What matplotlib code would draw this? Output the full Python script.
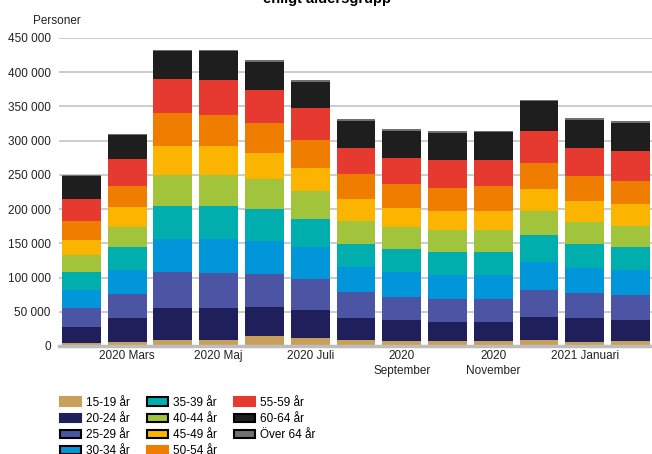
import matplotlib
matplotlib.use("Agg")
import matplotlib.pyplot as plt
import matplotlib.patches as mpatches
import numpy as np

plt.rcParams["font.family"] = ["Liberation Sans", "DejaVu Sans"]

months = ["2020 Februari", "2020 Mars", "2020 April", "2020 Maj", "2020 Juni", "2020 Juli",
          "2020 Augusti", "2020\nSeptember", "2020 Oktober", "2020\nNovember", "2020 December",
          "2021 Januari", "2021 Februari"]
shown_ticks = [1, 3, 5, 7, 9, 11]

groups = ["15-19 år", "20-24 år", "25-29 år", "30-34 år", "35-39 år", "40-44 år",
          "45-49 år", "50-54 år", "55-59 år", "60-64 år", "Över 64 år"]
colors = ["#c9a05a", "#1f1f5c", "#4c55a3", "#0096d9", "#00afad", "#a2c43c",
          "#fbb400", "#ef7d00", "#e63a31", "#1e1e1e", "#707070"]

# persons per age group
g15_19 = [4400, 5800, 8800, 8800, 14600, 11700, 8800, 7300, 7300, 7300, 8800, 5800, 7300]
g20_24 = [23300, 35100, 46600, 46600, 42300, 40800, 32100, 30600, 27700, 27700, 33500, 35100, 30600]
g25_29 = [27700, 35000, 52600, 51100, 48200, 45300, 37900, 33600, 33600, 33600, 39400, 36400, 36500]
g30_34 = [26300, 35000, 48100, 49600, 48100, 46700, 36500, 36500, 35000, 35000, 40900, 36500, 36500]
g35_39 = [26300, 33600, 48200, 48200, 46700, 40800, 33500, 33500, 33600, 33600, 39400, 35000, 33600]
g40_44 = [24800, 29200, 45200, 45200, 43800, 40900, 33600, 32200, 32100, 32100, 35000, 32100, 30600]
g45_49 = [21900, 29200, 42300, 42300, 37900, 33500, 32100, 27700, 27700, 27700, 32100, 30700, 32100]
g50_54 = [27700, 30600, 48200, 45300, 43800, 40900, 36500, 35000, 33500, 36500, 37900, 36500, 33600]
g55_59 = [32100, 39400, 49600, 51100, 48200, 46700, 37900, 37900, 40900, 37900, 46700, 40800, 43700]
g60_64 = [34000, 35000, 40900, 42300, 40900, 37900, 39400, 39400, 39400, 40900, 43800, 40900, 40900]
g65_up = [1500, 1500, 1500, 1500, 2800, 3000, 3000, 2900, 2900, 1400, 1500, 2900, 2900]

series = [g15_19, g20_24, g25_29, g30_34, g35_39, g40_44,
          g45_49, g50_54, g55_59, g60_64, g65_up]

fig = plt.figure(figsize=(6.52, 4.54), dpi=100)
ax = fig.add_axes([0.0905, 0.2379, 0.9095, 0.6784])

x = np.arange(len(months))
bottom = np.zeros(len(months))
for vals, col, name in zip(series, colors, groups):
    ax.bar(x, vals, width=0.85, bottom=bottom, color=col, label=name, zorder=3)
    bottom += np.array(vals)

ax.set_xlim(-0.49, 12.47)
ax.set_ylim(0, 450000)
yt = np.arange(0, 450001, 50000)
ax.set_yticks(yt)
ax.set_yticklabels([f"{v:,}".replace(",", " ") for v in yt], fontsize=8.5, color="#222222")
ax.set_xticks(shown_ticks)
ax.set_xticklabels([months[i] for i in shown_ticks], fontsize=8.5, color="#222222", linespacing=1.3)
ax.tick_params(length=0, pad=3)
ax.tick_params(axis="y", pad=6)

ax.grid(axis="y", color="#c8c8c8", linewidth=1.3, zorder=0)
ax.set_axisbelow(True)
for s in ["top", "right", "left"]:
    ax.spines[s].set_visible(False)
ax.spines["bottom"].set_color("#bdbdbd")
ax.spines["bottom"].set_linewidth(2.5)
ax.spines["bottom"].set_zorder(4)

fig.text(33 / 652, 1 - 24 / 454, "Personer", fontsize=8.5, color="#222222", va="baseline")
# title is partly outside the figure in the original
fig.text(0.502, 1 - 3 / 454, "enligt åldersgrupp", fontsize=10.5, fontweight="bold",
         ha="center", va="baseline")

edges = [None, None, "black", "black", "black", "black", "black", None, None, "black", "black"]
handles = []
for col, name, ec in zip(colors, groups, edges):
    handles.append(mpatches.Patch(facecolor=col, edgecolor=ec if ec else col,
                                  linewidth=1.5, label=name))
fig.legend(handles=handles, ncol=3, loc="upper left", bbox_to_anchor=(55 / 652, 1 - 392 / 454),
           frameon=False, fontsize=8.5, handlelength=1.8, handleheight=0.7,
           handletextpad=0.4, columnspacing=1.45, labelspacing=0.35, borderaxespad=0)

fig.savefig("out.png", dpi=100)
